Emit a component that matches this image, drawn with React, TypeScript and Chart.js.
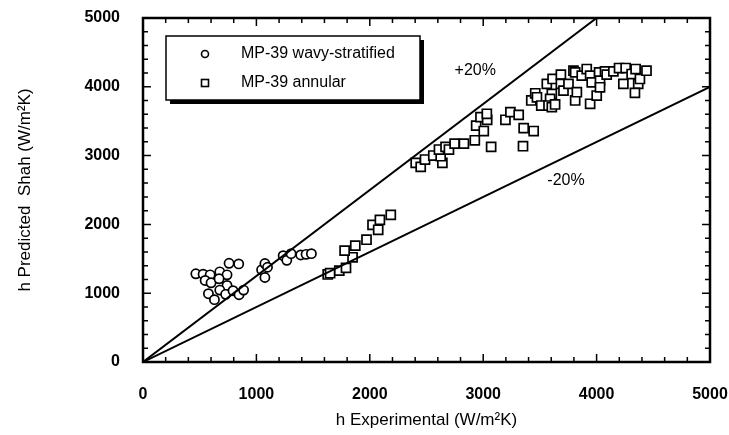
import { useEffect, useRef } from 'react';
import { Chart, registerables } from 'chart.js';

Chart.register(...registerables);

// ---- data ----
const wavyX = [466, 530, 592, 677, 741, 759, 844, 548, 600, 671, 741, 577, 630, 677, 729, 794, 847, 887, 1046, 1075, 1098, 1075, 1236, 1268, 1306, 1391, 1438, 1485];
const wavyY = [1282, 1276, 1267, 1310, 1267, 1435, 1426, 1185, 1151, 1209, 1113, 993, 906, 1045, 983, 1036, 978, 1045, 1340, 1431, 1377, 1228, 1546, 1478, 1575, 1556, 1565, 1575];

const annularX = [1629, 1650, 1731, 1790, 1848, 1778, 1872, 1971, 2024, 2089, 2074, 2185,
  2405, 2449, 2487, 2560, 2640, 2625, 2610, 2668, 2698, 2748, 2830, 2926, 2938, 3005, 2976, 3035, 3032, 3070,
  3196, 3240, 3313, 3357, 3445, 3351, 3424, 3459, 3474, 3512, 3561, 3612, 3605, 3590, 3576, 3605, 3634,
  3685, 3685, 3708, 3752, 3796, 3811, 3811, 3826, 3869, 3913, 3943, 3943, 3957, 4001, 4022, 4030, 4030,
  4074, 4089, 4148, 4198, 4236, 4256, 4309, 4344, 4367, 4382, 4338, 4440];
const annularY = [1272, 1290, 1329, 1368, 1522, 1618, 1691, 1777, 1994, 2066, 1922, 2139,
  2895, 2837, 2943, 3001, 2895, 2991, 3088, 3126, 3088, 3174, 3174, 3223, 3435, 3357, 3560, 3521, 3608, 3126,
  3521, 3631, 3593, 3400, 3357, 3136, 3801, 3906, 3848, 3728, 4042, 4114, 3897, 3825, 3728, 3704, 3743,
  4176, 4042, 3945, 4042, 4234, 3801, 4210, 3921, 4162, 4258, 3753, 4162, 4065, 3873, 4210, 4090, 3993,
  4224, 4176, 4224, 4273, 4042, 4273, 4186, 4258, 4042, 4114, 3912, 4234];

const plus20X = [0, 4000];
const plus20Y = [0, 5000];
const minus20X = [0, 5000];
const minus20Y = [0, 4000];

const axisMin = 0;
const axisMax = 5000;
const minorStep = 200;
const majorStep = 1000;

const seriesLabels = ['MP-39 wavy-stratified', 'MP-39 annular'];
const bandLabels = ['+20%', '-20%'];
const bandLabelX = [2930, 3730];
const bandLabelY = [4240, 2630];
const xTitle = 'h Experimental (W/m\u00B2K)';
const yTitle = 'h Predicted  Shah (W/m\u00B2K)';

const FONT = "'Liberation Sans', Arial, Helvetica, sans-serif";

const toPts = (xs: number[], ys: number[]) => xs.map((x, i) => ({ x, y: ys[i] }));

const zeroPad = (s: any) => {
  s.paddingLeft = 0;
  s.paddingRight = 0;
  s.paddingTop = 0;
  s.paddingBottom = 0;
};

const decorPlugin = {
  id: 'decor',
  afterDatasetsDraw(chart: any) {
    const ctx = chart.ctx as CanvasRenderingContext2D;
    const { left, right, top, bottom } = chart.chartArea;
    const xs = chart.scales.x;
    const ys = chart.scales.y;
    ctx.save();
    ctx.strokeStyle = '#000';
    ctx.fillStyle = '#000';
    // inward ticks
    ctx.lineWidth = 1.5;
    const tickLen = (v: number) => (v % majorStep === 0 ? 8 : 5);
    xs.ticks.forEach((t: any) => {
      const px = xs.getPixelForValue(t.value);
      const l = tickLen(t.value);
      ctx.beginPath();
      ctx.moveTo(px, bottom); ctx.lineTo(px, bottom - l);
      ctx.moveTo(px, top); ctx.lineTo(px, top + l);
      ctx.stroke();
    });
    ys.ticks.forEach((t: any) => {
      const py = ys.getPixelForValue(t.value);
      const l = tickLen(t.value);
      ctx.beginPath();
      ctx.moveTo(left, py); ctx.lineTo(left + l, py);
      ctx.moveTo(right, py); ctx.lineTo(right - l, py);
      ctx.stroke();
    });
    // frame
    ctx.lineWidth = 2.5;
    ctx.strokeRect(left, top, right - left, bottom - top);

    // band labels
    ctx.font = `16px ${FONT}`;
    ctx.textAlign = 'center';
    ctx.textBaseline = 'middle';
    bandLabels.forEach((txt, i) => {
      ctx.fillText(txt, xs.getPixelForValue(bandLabelX[i]), ys.getPixelForValue(bandLabelY[i]));
    });

    // legend box
    const bx = left + 23, by = top + 18, bw = 254, bh = 64;
    ctx.fillStyle = '#000';
    ctx.fillRect(bx + 4, by + 4, bw, bh);
    ctx.fillStyle = '#fff';
    ctx.fillRect(bx, by, bw, bh);
    ctx.lineWidth = 1.5;
    ctx.strokeRect(bx, by, bw, bh);
    ctx.fillStyle = '#000';
    ctx.textAlign = 'left';
    const row1 = by + 18, row2 = by + 47;
    const mx = bx + 39;
    ctx.lineWidth = 1.6;
    ctx.beginPath();
    ctx.arc(mx, row1, 3.5, 0, Math.PI * 2);
    ctx.stroke();
    ctx.strokeRect(mx - 3.5, row2 - 3.5, 7, 7);
    ctx.fillText(seriesLabels[0], bx + 75, row1);
    ctx.fillText(seriesLabels[1], bx + 75, row2);
    ctx.restore();
  },
};

export default function App() {
  const ref = useRef<HTMLCanvasElement | null>(null);
  useEffect(() => {
    if (!ref.current) return;
    const tickCb = (v: any) => (Number(v) % majorStep === 0 ? String(v) : '');
    const tickFont = { family: FONT, size: 16, weight: 'bold' as const };
    const titleFont = { family: FONT, size: 17, weight: 'normal' as const };
    const chart = new Chart(ref.current, {
      type: 'scatter',
      data: {
        datasets: [
          { label: '+20%', data: toPts(plus20X, plus20Y), showLine: true, borderColor: '#000', borderWidth: 2, pointRadius: 0 },
          { label: '-20%', data: toPts(minus20X, minus20Y), showLine: true, borderColor: '#000', borderWidth: 2, pointRadius: 0 },
          { label: seriesLabels[0], data: toPts(wavyX, wavyY), pointStyle: 'circle', pointRadius: 4.6, borderWidth: 1.7, borderColor: '#000', backgroundColor: '#fff' },
          { label: seriesLabels[1], data: toPts(annularX, annularY), pointStyle: 'rect', pointRadius: 6.4, borderWidth: 1.7, borderColor: '#000', backgroundColor: '#fff' },
        ],
      } as any,
      options: {
        animation: false,
        responsive: false,
        devicePixelRatio: 1,
        layout: { padding: { left: 0, top: 18, right: 19, bottom: 0 } },
        plugins: { legend: { display: false }, tooltip: { enabled: false } },
        scales: {
          x: {
            type: 'linear', min: axisMin, max: axisMax,
            grid: { display: false }, border: { display: false },
            ticks: { stepSize: minorStep, autoSkip: false, maxRotation: 0, padding: 15, color: '#000', font: tickFont, callback: tickCb },
            title: { display: true, text: xTitle, color: '#000', font: titleFont, padding: { top: 0, bottom: 4 } },
            afterFit: (s: any) => { s.height = 73; zeroPad(s); },
          },
          y: {
            type: 'linear', min: axisMin, max: axisMax,
            grid: { display: false }, border: { display: false },
            ticks: { stepSize: minorStep, autoSkip: false, padding: 15, color: '#000', font: tickFont, callback: tickCb },
            title: { display: true, text: yTitle, color: '#000', font: titleFont, padding: { top: 15, bottom: 0 } },
            afterFit: (s: any) => { s.width = 143; zeroPad(s); },
          },
        },
      } as any,
      plugins: [decorPlugin],
    });
    return () => chart.destroy();
  }, []);
  return (
    <div style={{ position: 'absolute', left: 0, top: 0, width: 729, height: 435, background: '#fff' }}>
      <canvas ref={ref} width={729} height={435} style={{ width: 729, height: 435, display: 'block' }} />
    </div>
  );
}
